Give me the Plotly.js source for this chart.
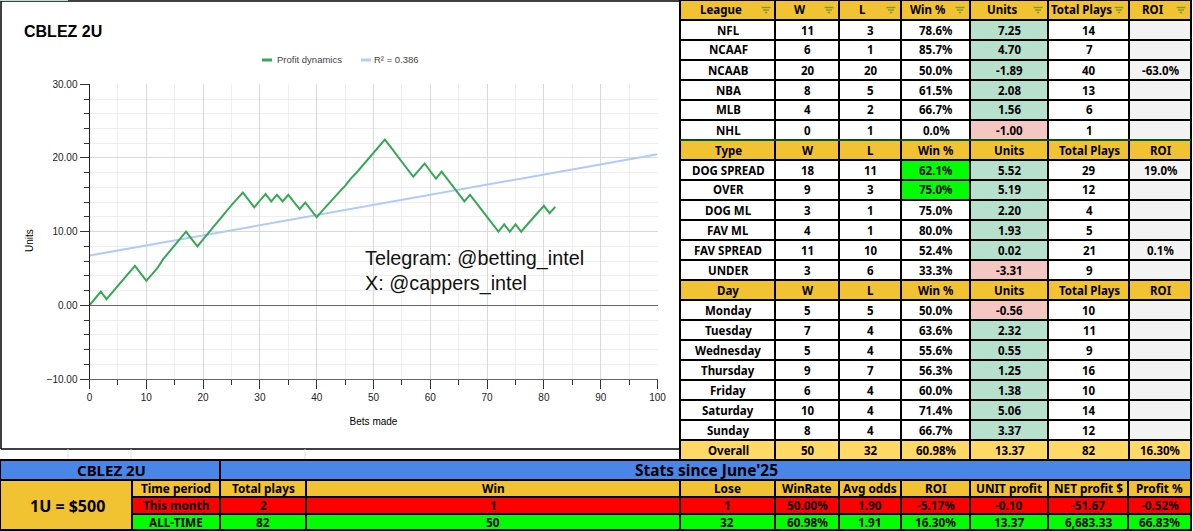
<!DOCTYPE html>
<html><head><meta charset="utf-8">
<script src="https://cdn.plot.ly/plotly-3.0.1.min.js"></script>
<style>html,body{margin:0;padding:0;background:#fff}#c{width:1193px;height:531px}</style></head>
<body><div id="c"></div>
<script>
const betsMade=[0,1,2,3,4,5,6,7,8,9,10,11,12,13,14,15,16,17,18,19,20,21,22,23,24,25,26,27,28,29,30,31,32,33,34,35,36,37,38,39,40,41,42,43,44,45,46,47,48,49,50,51,52,53,54,55,56,57,58,59,60,61,62,63,64,65,66,67,68,69,70,71,72,73,74,75,76,77,78,79,80,81,82];
const profit=[0,0.93,1.85,0.85,1.75,2.65,3.55,4.45,5.35,4.35,3.35,4.2,5.1,6.3,7.2,8.1,9.05,10,9,8,8.95,9.9,10.85,11.8,12.7,13.6,14.45,15.3,14.3,13.3,14.2,15.1,14.1,15,14.1,15,14,13.05,13.95,12.95,11.95,12.85,13.75,14.65,15.4,16.2,17.2,18,18.9,19.8,20.7,21.6,22.5,21.5,20.5,19.5,18.5,17.45,18.35,19.25,18.2,17.2,18.15,17.15,16.15,15.15,14.1,15,14,13,12,11,10,11,10,11,10,10.9,11.8,12.65,13.5,12.5,13.37];
const trendX=[0,100];
const trendY=[6.75,20.5];

const headLeague=["League","W","L","Win %","Units","Total Plays","ROI"];
const names=["NFL","NCAAF","NCAAB","NBA","MLB","NHL","Type","DOG SPREAD","OVER","DOG ML","FAV ML","FAV SPREAD","UNDER","Day","Monday","Tuesday","Wednesday","Thursday","Friday","Saturday","Sunday","Overall"];
const wins=["11","6","20","8","4","0","W","18","9","3","4","11","3","W","5","7","5","9","6","10","8","50"];
const losses=["3","1","20","5","2","1","L","11","3","1","1","10","6","L","5","4","4","7","4","4","4","32"];
const winPct=["78.6%","85.7%","50.0%","61.5%","66.7%","0.0%","Win %","62.1%","75.0%","75.0%","80.0%","52.4%","33.3%","Win %","50.0%","63.6%","55.6%","56.3%","60.0%","71.4%","66.7%","60.98%"];
const units=["7.25","4.70","-1.89","2.08","1.56","-1.00","Units","5.52","5.19","2.20","1.93","0.02","-3.31","Units","-0.56","2.32","0.55","1.25","1.38","5.06","3.37","13.37"];
const plays=["14","7","40","13","6","1","Total Plays","29","12","4","5","21","9","Total Plays","10","11","9","16","10","14","12","82"];
const roi=["","","-63.0%","","","","ROI","19.0%","","","","0.1%","","ROI","","","","","","","","16.30%"];

const bannerLeft="CBLEZ 2U";
const bannerRight="Stats since June'25";
const unitSize="1U = $500";
const statsHead=["Time period","Total plays","Win","Lose","WinRate","Avg odds","ROI","UNIT profit","NET profit $","Profit %"];
const monthRow=["This month","2","1","1","50.00%","1.90","-5.17%","-0.10","-51.67","-0.52%"];
const allTimeRow=["ALL-TIME","82","50","32","60.98%","1.91","16.30%","13.37","6,683.33","66.83%"];

const W=1193,H=531;
const px=x=>x/W, py=y=>1-y/H;
const GOLD="#f1c232",OVER="#ffd966",MINT="#b7e1cd",PINK="#f4c7c3",GREY="#f3f3f3",LIME="#00ff00",RED="#ff0000",BLUE="#4a86e8";
const TF="Noto Sans",TS=11.5;
const tfont=(s)=>({family:TF,size:s||TS,color:"#000",weight:700});

const sect=new Set([6,13]);
const rowFill=(i,base)=>i===21?OVER:sect.has(i)?GOLD:base;
const fills=[
 names.map((_,i)=>rowFill(i,"#fff")),
 wins.map((_,i)=>rowFill(i,"#fff")),
 losses.map((_,i)=>rowFill(i,"#fff")),
 winPct.map((_,i)=>rowFill(i,(i===7||i===8)?LIME:"#fff")),
 units.map((v,i)=>rowFill(i,(i===5||i===12||i===14)?PINK:MINT)),
 plays.map((_,i)=>rowFill(i,"#fff")),
 roi.map((_,i)=>rowFill(i,GREY))
];
const colEdges=[680,775,839,901,970,1048,1129,1191];
const colW=colEdges.slice(1).map((e,i)=>e-colEdges[i]);
const colC=colEdges.slice(1).map((e,i)=>(e+colEdges[i])/2+0.5);
const headC=[720.5,799.5,862.5,928,1002,1081,1152.5];
const blank=a=>a.map(()=>"");
const statEdges=[132,220,306,680,775,839,901,970,1048,1128,1191];
const statW=statEdges.slice(1).map((e,i)=>e-statEdges[i]);
const statC=statEdges.slice(1).map((e,i)=>(e+statEdges[i])/2);
const LN={color:"#000",width:2};

const tables=[{
 type:"table",domain:{x:[px(680),px(1191.5)],y:[py(462),1]},columnwidth:colW,
 header:{values:blank(headLeague),height:20,line:LN,fill:{color:GOLD}},
 cells:{values:fills.map(c=>blank(c)),height:20,line:LN,fill:{color:fills}}
},{
 type:"table",domain:{x:[0,px(220)],y:[py(481),py(460)]},
 header:{values:[""],height:20,line:LN,fill:{color:BLUE}},cells:{values:[[]],height:1}
},{
 type:"table",domain:{x:[px(220),px(1191.5)],y:[py(481),py(460)]},
 header:{values:[""],height:20,line:LN,fill:{color:BLUE}},cells:{values:[[]],height:1}
},{
 type:"table",domain:{x:[0,px(132)],y:[0,py(480)]},
 header:{values:[""],height:50,line:LN,fill:{color:GOLD}},cells:{values:[[]],height:1}
},{
 type:"table",domain:{x:[px(132),px(1191.5)],y:[0,py(480)]},columnwidth:statW,
 header:{values:blank(statsHead),height:17,line:LN,fill:{color:GOLD}},
 cells:{values:statsHead.map(()=>["",""]),height:16.5,line:LN,fill:{color:statsHead.map(()=>[RED,LIME])}}
}];

const traces=[
 {type:"scatter",mode:"lines",x:trendX,y:trendY,name:"R² = 0.386",line:{color:"#aecbfa",width:2},hoverinfo:"skip",showlegend:false},
 {type:"scatter",mode:"lines",x:betsMade,y:profit,name:"Profit dynamics",line:{color:"#34a853",width:2},showlegend:false},
 ...tables
];

const line=(x0,y0,x1,y1,color,width)=>({type:"line",xref:"paper",yref:"paper",x0:px(x0),x1:px(x1),y0:py(y0),y1:py(y1),line:{color,width},layer:"above"});
const filterIcons=[766,829,891,960,1038,1119,1181].flatMap(c=>[
 line(c-4.5,7.5,c+4.5,7.5,"#7f9a2e",1.4),line(c-3,10,c+3,10,"#7f9a2e",1.4),line(c-1.2,12.5,c+1.2,12.5,"#7f9a2e",1.4)]);
const frame=[
 line(1,1,680,1,"#000",1.5),line(1,1,1,449,"#000",1.5),line(1,449,680,449,"#000",1.5),line(680,0,680,449,"#000",1.5),
 line(0,0.5,68,0.5,"#b7e1cd",1),
 line(68,449,68,459,"#e0e0e0",1),line(131,449,131,459,"#e0e0e0",1),line(305,449,305,459,"#e0e0e0",1),
 line(680,140,1191,140,"#0b6b2b",1.5)
];
const legendMarks=[line(262,60,272,60,"#34a853",3),line(361,60,371,60,"#b7cdf6",3)];

const ann=(x,y,text,size,color,anchor)=>({xref:"paper",yref:"paper",x:px(x),y:py(y),text,showarrow:false,xanchor:anchor||"left",yanchor:"middle",font:{family:"Liberation Sans",size,color:color||"#000"},borderpad:0,borderwidth:0});
const cellAnn=(x,y,text,s)=>({xref:"paper",yref:"paper",x:px(x),y:py(y),text,showarrow:false,xanchor:"center",yanchor:"middle",font:tfont(s),borderpad:0,captureevents:false});

const tableText=[];
headLeague.forEach((t,c)=>tableText.push(cellAnn(headC[c],10,t)));
[names,wins,losses,winPct,units,plays,roi].forEach((col,c)=>col.forEach((t,r)=>{ if(t) tableText.push(cellAnn(colC[c],20*(r+1)+10,t)); }));
tableText.push(cellAnn(111,470,bannerLeft,15));
tableText.push(cellAnn(706,470,bannerRight,15.5));
tableText.push(cellAnn(67,505.5,unitSize,16));
[statsHead,monthRow,allTimeRow].forEach((row,r)=>row.forEach((t,c)=>tableText.push(cellAnn(statC[c],[487.5,504.5,521.5][r],t,11.8))));

const annotations=[
 ann(24,32,"<b>CBLEZ 2U</b>",16),
 ann(277,60,"Profit dynamics",9.5,"#444"),
 ann(374,60,"R² = 0.386",9.5,"#444"),
 ann(365,258,"Telegram: @betting_intel",19.8,"#111"),
 ann(365,283,"X: @cappers_intel",19.8,"#111"),
 Object.assign(ann(29,241,"Units",10,"#000","center"),{textangle:-90}),
 ...tableText
];

const layout={
 width:W,height:H,margin:{l:0,r:0,t:0,b:0},paper_bgcolor:"#fff",plot_bgcolor:"#fff",showlegend:false,autosize:false,
 xaxis:{domain:[px(89.5),px(657.5)],range:[0,100],tick0:0,dtick:10,ticks:"outside",ticklen:9,tickwidth:1,tickcolor:"#333",
  showgrid:true,gridcolor:"#d9d9d9",gridwidth:1,zeroline:false,showline:true,linecolor:"#666",linewidth:1,
  minor:{dtick:5,ticks:"outside",ticklen:5,tickwidth:1,tickcolor:"#333",showgrid:true,gridcolor:"#efefef",gridwidth:1},
  tickfont:{family:"Liberation Sans",size:10,color:"#222"},
  title:{text:"Bets made",font:{family:"Liberation Sans",size:10,color:"#000"},standoff:15}},
 yaxis:{domain:[py(379),py(84.3)],range:[-10,30],tick0:-10,dtick:10,tickformat:".2f",ticks:"outside",ticklen:9,tickwidth:1,tickcolor:"#333",
  showgrid:true,gridcolor:"#d9d9d9",gridwidth:1,zeroline:true,zerolinecolor:"#666",zerolinewidth:1,showline:true,linecolor:"#222",linewidth:1,
  minor:{dtick:2,ticks:"outside",ticklen:5,tickwidth:1,tickcolor:"#333",showgrid:true,gridcolor:"#efefef",gridwidth:1},
  tickfont:{family:"Liberation Sans",size:10,color:"#222"}},
 shapes:[...frame,...legendMarks,...filterIcons],annotations
};
Plotly.newPlot("c",traces,layout,{displayModeBar:false});
</script></body></html>
